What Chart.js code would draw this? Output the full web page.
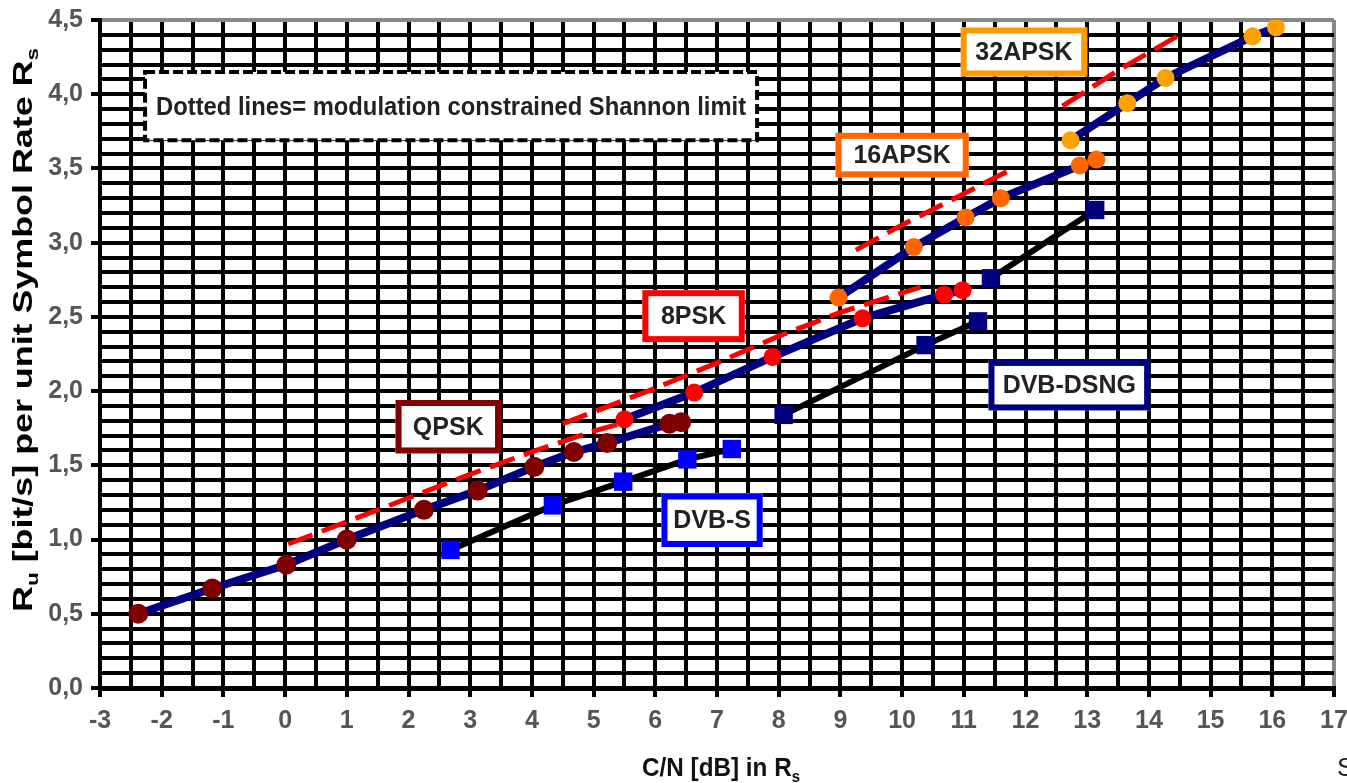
<!DOCTYPE html>
<html><head><meta charset="utf-8">
<script src="https://cdn.jsdelivr.net/npm/chart.js@4.4.1/dist/chart.umd.min.js"></script>
<style>html,body{margin:0;padding:0;background:#fff;overflow:hidden}#wrap{width:1347px;height:783px}</style>
</head><body><div id="wrap"><canvas id="c" width="1347" height="783"></canvas></div>
<script>
// ---- data ----
const xMin = -3, xMax = 17, yMin = 0, yMax = 4.5;

const qpskX = [-2.38, -1.18, 0.02, 1.0, 2.25, 3.12, 4.04, 4.68, 5.22, 6.23, 6.42];
const qpskY = [0.50, 0.67, 0.83, 1.00, 1.20, 1.33, 1.49, 1.59, 1.65, 1.78, 1.79];

const psk8X = [5.5, 6.63, 7.9, 9.36, 10.68, 10.98];
const psk8Y = [1.81, 1.99, 2.23, 2.49, 2.65, 2.68];

const apsk16X = [8.97, 10.19, 11.03, 11.6, 12.88, 13.15];
const apsk16Y = [2.63, 2.97, 3.17, 3.30, 3.52, 3.56];

const apsk32X = [12.73, 13.65, 14.27, 15.68, 16.06];
const apsk32Y = [3.69, 3.94, 4.11, 4.39, 4.45];

const dvbsX = [2.68, 4.34, 5.48, 6.52, 7.24];
const dvbsY = [0.93, 1.23, 1.39, 1.54, 1.61];

const dsng8X = [8.08, 10.38, 11.23];
const dsng8Y = [1.84, 2.31, 2.47];
const dsng16X = [11.44, 13.13];
const dsng16Y = [2.76, 3.22];

const shQpskX = [0.05, 1, 2, 3, 4, 5, 5.6];
const shQpskY = [0.97, 1.12, 1.28, 1.44, 1.59, 1.73, 1.80];
const sh8X = [4.5, 5, 6, 7, 8, 9, 10.3];
const sh8Y = [1.78, 1.86, 2.02, 2.19, 2.37, 2.53, 2.70];
const sh16X = [9.25, 10, 11, 11.8];
const sh16Y = [2.95, 3.12, 3.33, 3.50];
const sh32X = [12.6, 13.5, 14.5];
const sh32Y = [3.92, 4.16, 4.40];

const boxLabels = ['QPSK', '8PSK', 'DVB-S', '16APSK', 'DVB-DSNG', '32APSK'];
const noteText = 'Dotted lines= modulation constrained Shannon limit';
const yTitleParts = [['R', 0], ['u', 1], [' [bit/s] per unit Symbol Rate R', 0], ['s', 1]];
const xTitleParts = [['C/N [dB] in R', 0], ['s', 1]];
const cornerText = 'S';

// ---- layout / style (not data) ----
const boxStyle = [
  {x0: 1.79, x1: 3.5, y0: 1.94, y1: 1.58, c: '#800000'},
  {x0: 5.79, x1: 7.45, y0: 2.68, y1: 2.33, c: '#FF0000'},
  {x0: 6.10, x1: 7.74, y0: 1.31, y1: 0.95, c: '#0000FF'},
  {x0: 8.92, x1: 11.08, y0: 3.74, y1: 3.44, c: '#FF6600'},
  {x0: 11.40, x1: 14.02, y0: 2.21, y1: 1.87, c: '#000080'},
  {x0: 10.95, x1: 13.0, y0: 4.45, y1: 4.12, c: '#FF9900'}
];
const noteBox = {x0: -2.27, x1: 7.65, y0: 4.15, y1: 3.69};

function pts(xs, ys) { return xs.map((x, i) => ({x: x, y: ys[i]})); }

const FONT = '"Liberation Sans", Arial, sans-serif';

function shannon(xs, ys) {
  return {data: pts(xs, ys), borderColor: '#FF0000', borderWidth: 5, borderDash: [26, 10],
    pointRadius: 0, showLine: true, tension: 0, fill: false};
}
function curve(xs, ys, lineC, ptC, shape, r, w) {
  return {data: pts(xs, ys), borderColor: lineC, borderWidth: w, pointStyle: shape,
    pointRadius: r, pointBackgroundColor: ptC, pointBorderWidth: 0, pointHoverRadius: r,
    showLine: true, tension: 0, fill: false};
}

function drawRich(ctx, parts, cx, cy, angle, target, size, color) {
  ctx.save();
  ctx.translate(cx, cy);
  ctx.rotate(angle);
  ctx.fillStyle = color;
  ctx.textBaseline = 'alphabetic';
  ctx.textAlign = 'left';
  const sub = Math.round(size * 0.62);
  let total = 0; const ws = [];
  parts.forEach(p => {
    ctx.font = 'bold ' + (p[1] ? sub : size) + 'px ' + FONT;
    const w = ctx.measureText(p[0]).width; ws.push(w); total += w;
  });
  const s = target / total;
  ctx.scale(s, 1);
  let x = -total / 2;
  const base = size * 0.36;
  parts.forEach((p, i) => {
    ctx.font = 'bold ' + (p[1] ? sub : size) + 'px ' + FONT;
    ctx.fillText(p[0], x, p[1] ? base + size * 0.22 : base);
    x += ws[i];
  });
  ctx.restore();
}

const annot = {
  id: 'annot',
  afterDatasetsDraw(chart) {
    const ctx = chart.ctx, xs = chart.scales.x, ys = chart.scales.y;
    ctx.save();
    let L = xs.getPixelForValue(noteBox.x0), R = xs.getPixelForValue(noteBox.x1);
    let T = ys.getPixelForValue(noteBox.y0), B = ys.getPixelForValue(noteBox.y1);
    ctx.fillStyle = '#fff';
    ctx.fillRect(L, T, R - L, B - T);
    ctx.setLineDash([10, 4]);
    ctx.lineWidth = 4;
    ctx.strokeStyle = '#000';
    ctx.strokeRect(L, T, R - L, B - T);
    ctx.restore();
    drawRich(ctx, [[noteText, 0]], (L + R) / 2, (T + B) / 2, 0, R - L - 22, 25, '#222');
    boxStyle.forEach((b, i) => {
      const l = xs.getPixelForValue(b.x0), r = xs.getPixelForValue(b.x1);
      const t = ys.getPixelForValue(b.y0), bb = ys.getPixelForValue(b.y1);
      ctx.save();
      ctx.fillStyle = '#fff';
      ctx.fillRect(l, t, r - l, bb - t);
      ctx.lineWidth = 6;
      ctx.strokeStyle = b.c;
      ctx.strokeRect(l + 3, t + 3, r - l - 6, bb - t - 6);
      ctx.fillStyle = '#222';
      ctx.font = 'bold 25px ' + FONT;
      ctx.textAlign = 'center';
      ctx.textBaseline = 'middle';
      ctx.fillText(boxLabels[i], (l + r) / 2, (t + bb) / 2 + 1);
      ctx.restore();
    });
  },
  afterDraw(chart) {
    const ctx = chart.ctx;
    drawRich(ctx, yTitleParts, 22, 330, -Math.PI / 2, 564, 27, '#000');
    drawRich(ctx, xTitleParts, 721, 767, 0, 158, 26, '#111');
    ctx.save();
    ctx.fillStyle = '#222';
    ctx.font = '26px ' + FONT;
    ctx.textAlign = 'left';
    ctx.textBaseline = 'alphabetic';
    ctx.fillText(cornerText, 1337, 776);
    ctx.restore();
  }
};

const isInt = v => Math.abs(v - Math.round(v)) < 1e-6;
const isHalf = v => Math.abs(v * 2 - Math.round(v * 2)) < 1e-6;

new Chart(document.getElementById('c'), {
  type: 'line',
  data: {
    datasets: [
      shannon(shQpskX, shQpskY),
      shannon(sh8X, sh8Y),
      shannon(sh16X, sh16Y),
      shannon(sh32X, sh32Y),
      curve(dvbsX, dvbsY, '#000000', '#0000FF', 'rect', 13, 6),
      curve(dsng8X, dsng8Y, '#000000', '#000080', 'rect', 13, 6),
      curve(dsng16X, dsng16Y, '#000000', '#000080', 'rect', 13, 6),
      curve(qpskX, qpskY, '#000080', '#800000', 'circle', 10, 8),
      curve(psk8X, psk8Y, '#000080', '#FF0000', 'circle', 9, 8),
      curve(apsk16X, apsk16Y, '#000080', '#FF6600', 'circle', 9, 8),
      curve(apsk32X, apsk32Y, '#000080', '#FFA000', 'circle', 9, 8)
    ]
  },
  options: {
    responsive: false,
    devicePixelRatio: 1,
    animation: false,
    layout: {padding: {top: 20, right: 7, left: 0, bottom: 0}},
    plugins: {legend: {display: false}, tooltip: {enabled: false}},
    scales: {
      x: {
        type: 'linear', min: xMin, max: xMax,
        ticks: {stepSize: 0.5, autoSkip: false, maxRotation: 0, padding: 9, color: '#555',
          font: {family: FONT, size: 25, weight: 'bold'},
          callback: v => isInt(v) ? String(Math.round(v)) : ''},
        grid: {color: c => (c.tick && c.tick.value === xMax) ? '#888' : '#000', lineWidth: 4,
          tickLength: 9, tickWidth: 4,
          tickColor: c => (c.tick && isInt(c.tick.value)) ? '#000' : 'rgba(0,0,0,0)'},
        border: {color: '#000', width: 5},
        afterFit: s => { s.height = 95; s.paddingRight = 0; s.paddingLeft = 0; }
      },
      y: {
        type: 'linear', min: yMin, max: yMax,
        ticks: {stepSize: 0.1, autoSkip: false, padding: 8, color: '#555',
          font: {family: FONT, size: 25, weight: 'bold'},
          callback: v => isHalf(v) ? v.toFixed(1).replace('.', ',') : ''},
        grid: {color: c => (c.tick && Math.abs(c.tick.value - yMax) < 1e-6) ? '#888' : '#000', lineWidth: 4,
          tickLength: 9, tickWidth: 4,
          tickColor: c => (c.tick && isHalf(c.tick.value)) ? '#000' : 'rgba(0,0,0,0)'},
        border: {color: '#000', width: 4},
        afterFit: s => { s.width = 100; s.paddingTop = 0; s.paddingBottom = 0; }
      }
    }
  },
  plugins: [annot]
});
</script>
</body></html>
